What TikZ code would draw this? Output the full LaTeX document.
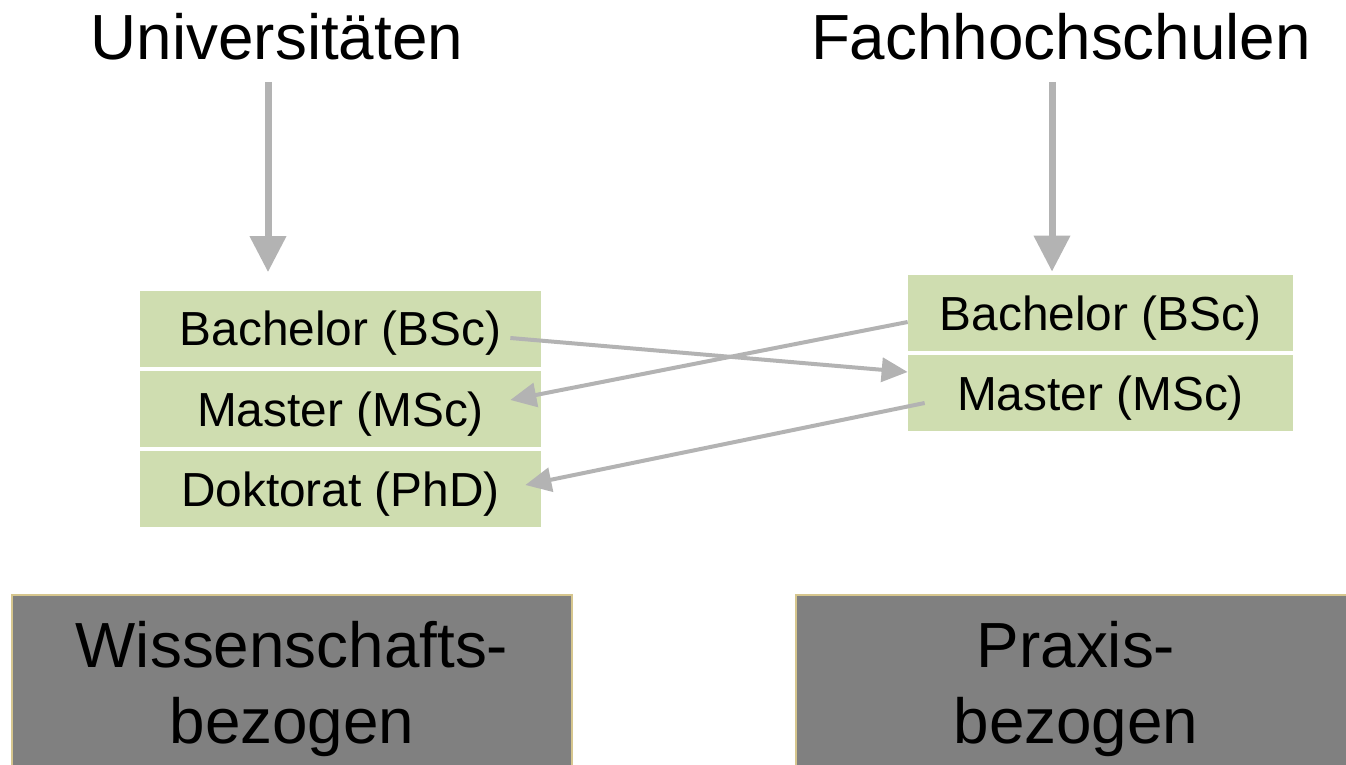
\documentclass[tikz,border=0pt]{standalone}
\usepackage{fontspec}
\setmainfont{Liberation Sans}
\usetikzlibrary{arrows.meta}
\definecolor{stagefill}{HTML}{CFDDB0}
\definecolor{arrgray}{HTML}{B3B3B3}
\definecolor{platefill}{HTML}{808080}
\definecolor{plateedge}{HTML}{D6C68E}
\tikzset{
  ttl/.style={font=\fontsize{36.3}{43}\selectfont, anchor=base, inner sep=0pt},
  stage/.style={fill=stagefill, inner sep=0pt, minimum height=1.52cm, text height=19.4pt, text depth=0pt, font=\fontsize{27.2}{32}\selectfont},
  lstage/.style={stage, minimum width=8.02cm},
  rstage/.style={stage, minimum width=7.70cm},
  plate/.style={draw=plateedge, fill=platefill, line width=0.04cm, minimum width=11.2cm, minimum height=3.76cm, inner sep=0pt, align=center, font=\fontsize{36.3}{43}\selectfont},
  feed/.style={-{Triangle[length=7.2mm, width=7.0mm]}, draw=arrgray, line width=0.14cm},
  link/.style={-{Triangle[length=5.2mm, width=4.8mm]}, draw=arrgray, line width=0.08cm},
}
\begin{document}
\begin{tikzpicture}[x=1cm,y=1cm]
  \useasboundingbox (0,0) rectangle (26.920,-15.300);
  \node[ttl] (tuni) at (5.540,-1.190) {Universitäten};
  \node[ttl] (tfh) at (21.220,-1.190) {Fachhochschulen};
  \node[lstage] (ub) at (6.810,-6.570) {Bachelor (BSc)};
  \node[lstage] (um) at (6.810,-8.180) {Master (MSc)};
  \node[lstage] (ud) at (6.810,-9.780) {Doktorat (PhD)};
  \node[rstage] (fb) at (22.010,-6.260) {Bachelor (BSc)};
  \node[rstage] (fm) at (22.010,-7.860) {Master (MSc)};
  \coordinate (uarr) at (5.360,-1.640);
  \coordinate (farr) at (21.040,-1.640);
  \draw[feed, shorten >=0.36cm] (uarr) -- (uarr |- ub.north);
  \draw[feed, shorten >=0.06cm] (farr) -- (farr |- fb.north);
  \draw[link] ([xshift=-0.62cm,yshift=-0.19cm]ub.east) -- ([yshift=0.42cm]fm.west);
  \draw[link] ([yshift=-0.18cm]fb.west) -- ([xshift=-0.62cm,yshift=0.18cm]um.east);
  \draw[link] ([xshift=0.34cm,yshift=-0.20cm]fm.west) -- ([xshift=-0.32cm,yshift=0.08cm]ud.east);
  \node[plate] (pwiss) at (5.840,-13.780) {Wissenschafts-\\bezogen};
  \node[plate] (ppraxis) at (21.520,-13.780) {Praxis-\\bezogen};
\end{tikzpicture}
\end{document}
